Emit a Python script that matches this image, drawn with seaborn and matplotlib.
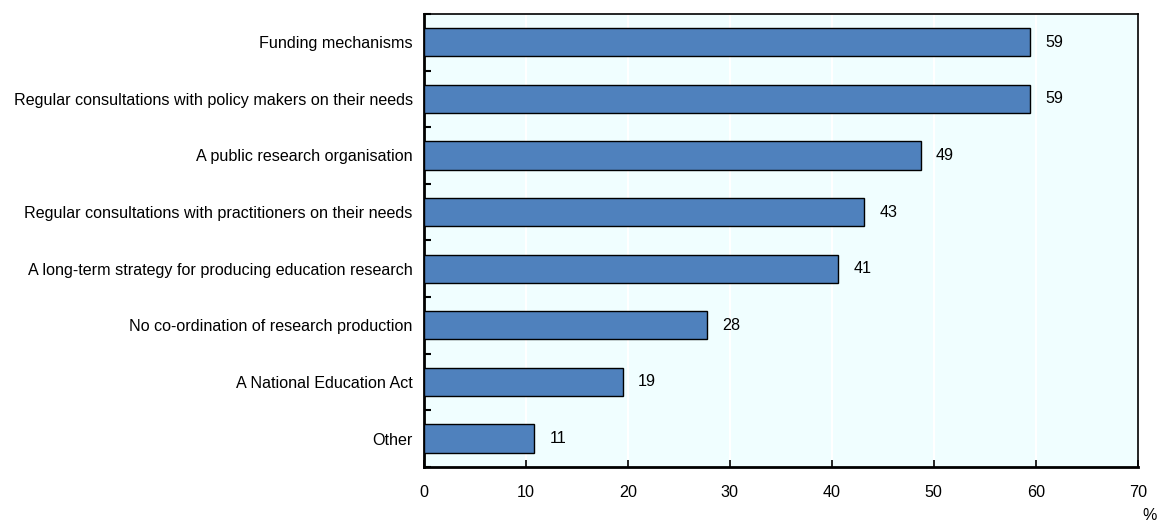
import matplotlib
matplotlib.use("Agg")
import matplotlib.pyplot as plt
import seaborn as sns
import pandas as pd
import numpy as np
from matplotlib.ticker import FixedLocator

categories = [
    "Funding mechanisms",
    "Regular consultations with policy makers on their needs",
    "A public research organisation",
    "Regular consultations with practitioners on their needs",
    "A long-term strategy for producing education research",
    "No co-ordination of research production",
    "A National Education Act",
    "Other",
]
values = [59.4, 59.4, 48.7, 43.2, 40.6, 27.8, 19.5, 10.8]
value_labels = ["59", "59", "49", "43", "41", "28", "19", "11"]
x_ticks = [0, 10, 20, 30, 40, 50, 60, 70]

df = pd.DataFrame({"category": categories, "value": values})

sns.set_theme(style="white")
plt.rcParams["font.family"] = ["Liberation Sans", "DejaVu Sans"]
FS = 11.6
plt.rcParams["font.size"] = FS

fig = plt.figure(figsize=(11.58, 5.24), dpi=100)
ax = fig.add_axes([0.366, 0.109, 0.6165, 0.8645])
ax.set_facecolor("#F0FEFF")

sns.barplot(data=df, x="value", y="category", orient="h", color="#4F81BD",
            saturation=1, width=0.5, edgecolor="black", linewidth=1.0, ax=ax, zorder=3)

ax.set_xlim(0, 70)
ax.set_ylim(len(categories) - 0.5, -0.5)
ax.set_xticks(x_ticks)
ax.set_xticklabels([str(t) for t in x_ticks], fontsize=FS, color="black")
ax.xaxis.grid(True, color="white", linewidth=1.5, zorder=0)
ax.set_axisbelow(True)

ax.set_xlabel("")
ax.set_ylabel("")
ax.tick_params(axis="y", which="major", length=0, labelsize=FS, labelcolor="black", pad=8)
ax.yaxis.set_minor_locator(FixedLocator(np.arange(-0.5, len(categories), 1.0)))
ax.tick_params(axis="y", which="minor", direction="in", length=5, width=1.5, color="black", left=True)
ax.tick_params(axis="x", which="major", direction="in", length=5, width=1.2, color="black", bottom=True, pad=13)

for side in ["left", "bottom"]:
    ax.spines[side].set_linewidth(2.0)
    ax.spines[side].set_color("black")
for side in ["right", "top"]:
    ax.spines[side].set_linewidth(1.2)
    ax.spines[side].set_color("black")
    ax.spines[side].set_visible(True)

for i, (v, lab) in enumerate(zip(values, value_labels)):
    ax.annotate(lab, xy=(v, i), xytext=(11, 0), textcoords="offset points",
                ha="left", va="center", fontsize=FS, color="black")

fig.text(1150 / 1158, 1 - 515 / 524, "%", ha="center", va="center", fontsize=FS, color="black")

fig.savefig("out.png", dpi=100)
